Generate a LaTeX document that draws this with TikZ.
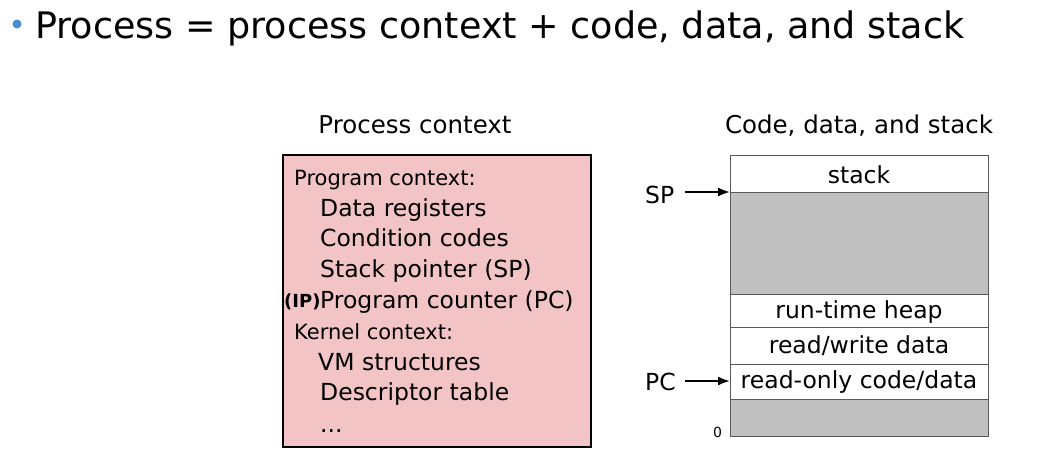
\documentclass[tikz,border=0pt]{standalone}
\usepackage{fontspec}
\setmainfont{DejaVu Sans}
\usetikzlibrary{arrows.meta}
\definecolor{ctxpink}{HTML}{F2C4C5}
\definecolor{seggray}{HTML}{C0C0C0}
\definecolor{bulletblue}{HTML}{4A8FD6}

\begin{document}
\begin{tikzpicture}[x=1pt,y=-1pt,
    lbl/.style={inner sep=0pt, anchor=base west},
    item/.style={lbl, font=\fontsize{23.5}{28}\selectfont},
    head/.style={lbl, font=\fontsize{21}{25}\selectfont},
    seg/.style={draw=black!65, line width=0.8pt},
    ptr/.style={-{Latex[length=12pt,width=9pt]}, line width=2pt}]
                    \useasboundingbox (0,0) rectangle (1052,453);
                    \fill[bulletblue] (17,24) circle (4.5);
                    \node[lbl, font=\fontsize{36.5}{42}\selectfont] (title) at (35,38) {Process = process context + code, data, and stack};

                    \node[inner sep=0pt, anchor=base, font=\fontsize{24.5}{28}\selectfont] (ctxhead) at (415,133) {Process context};
                    \node[inner sep=0pt, anchor=base, font=\fontsize{24.5}{28}\selectfont] (memhead) at (859,133) {Code, data, and stack};

                    % process context
                    \draw[fill=ctxpink, line width=2pt] (283,155) rectangle (591,447);
                    \node[head] (progctx) at (294,185) {Program context:};
                    \node[item] (datareg) at (320,216) {Data registers};
                    \node[item] (condcode) at (320,246) {Condition codes};
                    \node[item] (stackptr) at (320,277) {Stack pointer (SP)};
                    \node[item] (progcnt) at (320,308) {Program counter (PC)};
                    \node[lbl, font=\fontsize{18}{20}\selectfont\bfseries] (ip) at (284,307) {(IP)};
                    \node[head] (kernctx) at (294,339) {Kernel context:};
                    \node[item] (vmstruct) at (318,370) {VM structures};
                    \node[item] (desctab) at (320,400) {Descriptor table};
                    \node[item] (more) at (320,432) {...};

                    % code, data, and stack
                    \filldraw[seg, fill=white] (730,155) rectangle (988,192);
                    \filldraw[seg, fill=seggray] (730,192) rectangle (988,294);
                    \filldraw[seg, fill=white] (730,294) rectangle (988,327);
                    \filldraw[seg, fill=white] (730,327) rectangle (988,364);
                    \filldraw[seg, fill=white] (730,364) rectangle (988,399);
                    \filldraw[seg, fill=seggray] (730,399) rectangle (988,436);
                    \node[inner sep=0pt, anchor=base, font=\fontsize{23.5}{28}\selectfont] (stack) at (859,183) {stack};
                    \node[inner sep=0pt, anchor=base, font=\fontsize{23.5}{28}\selectfont] (heap) at (859,318) {run-time heap};
                    \node[inner sep=0pt, anchor=base, font=\fontsize{23.5}{28}\selectfont] (rwdata) at (859,353) {read/write data};
                    \node[inner sep=0pt, anchor=base, font=\fontsize{23.5}{28}\selectfont] (rocode) at (859,388) {read-only code/data};
                    \node[lbl, font=\fontsize{14}{16}\selectfont] (zero) at (713,437) {0};

                    \node[item] (sp) at (645,203) {SP};
                    \node[item] (pc) at (645,390) {PC};
                    \coordinate (sptip) at (730,192);
                    \coordinate (pctip) at (730,381);
                    \draw[ptr] (sp.east |- sptip) ++(11,0) -- (sptip);
                    \draw[ptr] (pc.east |- pctip) ++(9,0) -- (pctip);
                \end{tikzpicture}
\end{document}
